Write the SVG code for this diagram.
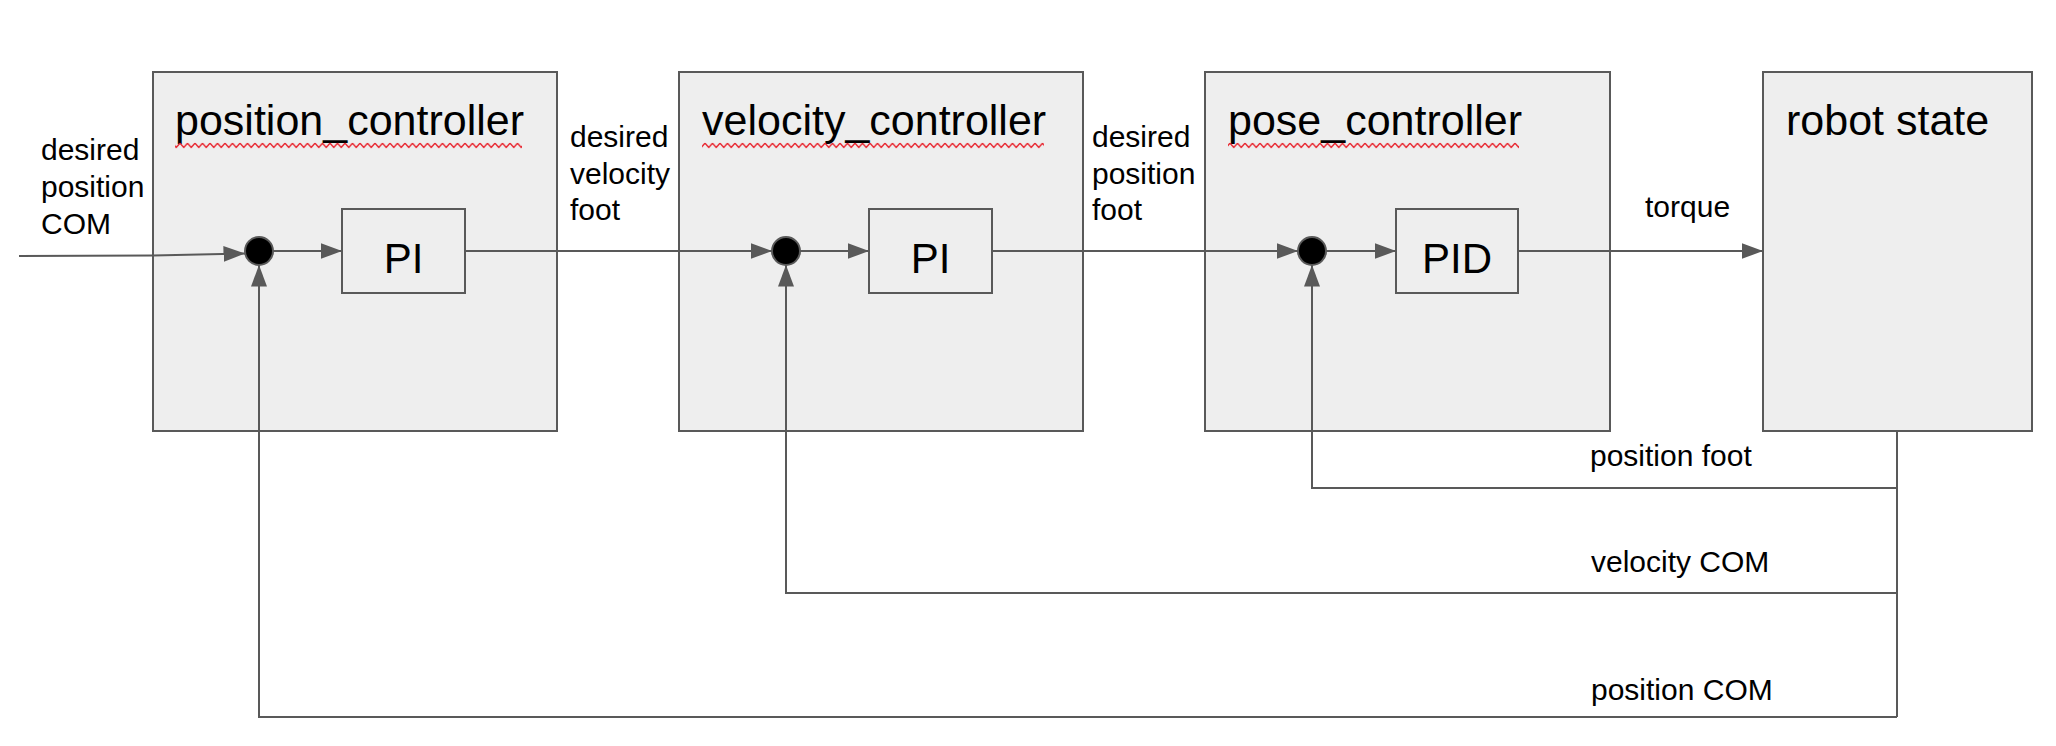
<svg xmlns="http://www.w3.org/2000/svg" width="2056" height="746" viewBox="0 0 2056 746">
<style>
.box{fill:#eeeeee;stroke:#595959;stroke-width:2}
.blk{fill:#eeeeee;stroke:#595959;stroke-width:2}
.sum{fill:#000000;stroke:#595959;stroke-width:2}
.title{font-family:"Liberation Sans",Arial,sans-serif;font-size:43px;fill:#000}
.bt{font-family:"Liberation Sans",Arial,sans-serif;font-size:42px;fill:#000;text-anchor:middle}
.lbl{font-family:"Liberation Sans",Arial,sans-serif;font-size:30px;fill:#000}
.ln{fill:none;stroke:#595959;stroke-width:2}
</style>
<defs>
<marker id="arr" markerUnits="userSpaceOnUse" markerWidth="23" markerHeight="17" refX="21.5" refY="8" orient="auto">
<path d="M0,0 L21.5,8 L0,16 z" fill="#595959"/>
</marker>
<pattern id="wave" patternUnits="userSpaceOnUse" width="7.5" height="7" x="0" y="142">
<path d="M0,1.2 L3.75,5.5 L7.5,1.2" fill="none" stroke="#e8202a" stroke-width="1.4"/>
</pattern>
</defs>
<rect width="2056" height="746" fill="#ffffff"/>

<g id="position_controller">
<rect class="box" x="153" y="72" width="404" height="359"/>
<text class="title" x="175" y="135">position_controller</text>
<rect x="175" y="142" width="347" height="7" fill="url(#wave)"/>
</g>
<g id="velocity_controller">
<rect class="box" x="679" y="72" width="404" height="359"/>
<text class="title" x="702" y="135">velocity_controller</text>
<rect x="702" y="142" width="342" height="7" fill="url(#wave)"/>
</g>
<g id="pose_controller">
<rect class="box" x="1205" y="72" width="405" height="359"/>
<text class="title" x="1228" y="135">pose_controller</text>
<rect x="1228" y="142" width="291" height="7" fill="url(#wave)"/>
</g>
<g id="robot_state">
<rect class="box" x="1763" y="72" width="269" height="359"/>
<text class="title" x="1786" y="135">robot state</text>
</g>

<g id="pi1">
<rect class="blk" x="342" y="209" width="123" height="84"/>
<text class="bt" x="403.5" y="273">PI</text>
</g>
<g id="pi2">
<rect class="blk" x="869" y="209" width="123" height="84"/>
<text class="bt" x="930.5" y="273">PI</text>
</g>
<g id="pid">
<rect class="blk" x="1396" y="209" width="122" height="84"/>
<text class="bt" x="1457" y="273">PID</text>
</g>

<g id="connectors">
<path class="ln" d="M19,256 L153,255.5 L245,253.5" marker-end="url(#arr)"/>
<line class="ln" x1="273" y1="251" x2="342" y2="251" marker-end="url(#arr)"/>
<line class="ln" x1="465" y1="251" x2="772" y2="251" marker-end="url(#arr)"/>
<line class="ln" x1="800" y1="251" x2="869" y2="251" marker-end="url(#arr)"/>
<line class="ln" x1="992" y1="251" x2="1298" y2="251" marker-end="url(#arr)"/>
<line class="ln" x1="1326" y1="251" x2="1396" y2="251" marker-end="url(#arr)"/>
<line class="ln" x1="1518" y1="251" x2="1763" y2="251" marker-end="url(#arr)"/>
<path class="ln" d="M1897,431 L1897,717"/>
<path class="ln" d="M1897,488 L1312,488 L1312,265" marker-end="url(#arr)"/>
<path class="ln" d="M1897,593 L786,593 L786,265" marker-end="url(#arr)"/>
<path class="ln" d="M1897,717 L259,717 L259,265" marker-end="url(#arr)"/>
</g>

<g id="sum1"><circle class="sum" cx="259" cy="251" r="14"/></g>
<g id="sum2"><circle class="sum" cx="786" cy="251" r="14"/></g>
<g id="sum3"><circle class="sum" cx="1312" cy="251" r="14"/></g>

<g id="labels">
<text class="lbl" x="41" y="160">desired</text>
<text class="lbl" x="41" y="197">position</text>
<text class="lbl" x="41" y="234">COM</text>
<text class="lbl" x="570" y="147">desired</text>
<text class="lbl" x="570" y="184">velocity</text>
<text class="lbl" x="570" y="220">foot</text>
<text class="lbl" x="1092" y="147">desired</text>
<text class="lbl" x="1092" y="184">position</text>
<text class="lbl" x="1092" y="220">foot</text>
<text class="lbl" x="1645" y="217">torque</text>
<text class="lbl" x="1590" y="466">position foot</text>
<text class="lbl" x="1591" y="572">velocity COM</text>
<text class="lbl" x="1591" y="700">position COM</text>
</g>
</svg>
